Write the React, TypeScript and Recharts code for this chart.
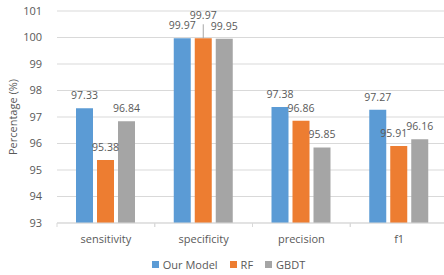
import React from 'react';
import { BarChart, Bar, XAxis, YAxis, CartesianGrid, Legend, LabelList } from 'recharts';

const categories = ['sensitivity', 'specificity', 'precision', 'f1'];
const ourModel = [97.33, 99.97, 97.38, 97.27];
const rf = [95.38, 99.97, 96.86, 95.91];
const gbdt = [96.84, 99.95, 95.85, 96.16];
const yTicks = [93, 94, 95, 96, 97, 98, 99, 100, 101];
const seriesNames = ['Our Model', 'RF', 'GBDT'];
const colors = ['#5B9BD5', '#ED7D31', '#A5A5A5'];

const data = categories.map((c, i) => ({ name: c, ours: ourModel[i], rf: rf[i], gbdt: gbdt[i] }));

const FONT = '"Open Sans", sans-serif';
const TEXT = '#595959';
const GRID = '#D9D9D9';

const XTick = (props: any) => {
  const { x, y, payload } = props;
  const off = payload && payload.offset != null ? payload.offset : 49;
  return (
    <g>
      <line x1={x - off} x2={x - off} y1={y} y2={y + 4} stroke={GRID} />
      <line x1={x + off} x2={x + off} y1={y} y2={y + 4} stroke={GRID} />
      <text x={x} y={y + 15} textAnchor="middle" dominantBaseline="central" fill={TEXT} fontSize={11} fontFamily={FONT}>
        {payload.value}
      </text>
    </g>
  );
};

const makeLabel = (raised: string | null, shifted: string | null) => (props: any) => {
  const vb = props.viewBox || props;
  const x = vb.x != null ? vb.x : props.x;
  const y = vb.y != null ? vb.y : props.y;
  const width = vb.width != null ? vb.width : props.width;
  const idx = props.index;
  const cx = x + width / 2 + (shifted != null && categories[idx] === shifted ? -5 : 0);
  const isRaised = raised != null && categories[idx] === raised;
  if (isRaised) {
    return (
      <g>
        <line x1={cx} x2={cx} y1={y - 14} y2={y} stroke="#A6A6A6" />
        <text x={cx} y={y - 19} textAnchor="middle" fill={TEXT} fontSize={10.5} fontFamily={FONT}>
          {props.value}
        </text>
      </g>
    );
  }
  return (
    <text x={cx} y={y - 9} textAnchor="middle" fill={TEXT} fontSize={10.5} fontFamily={FONT}>
      {props.value}
    </text>
  );
};

const renderLegend = () => (
  <div style={{ display: 'flex', justifyContent: 'center', alignItems: 'center', height: 22, fontFamily: FONT, fontSize: 11, color: TEXT }}>
    {seriesNames.map((n, i) => (
      <div key={n} style={{ display: 'flex', alignItems: 'center', marginRight: i < seriesNames.length - 1 ? 12 : 0 }}>
        <div style={{ width: 7, height: 7, background: colors[i], marginRight: 4 }} />
        <span>{n}</span>
      </div>
    ))}
  </div>
);

export default function App() {
  return (
    <div style={{ position: 'absolute', left: 0, top: 0, width: 444, height: 275, overflow: 'hidden', background: '#fff' }}>
      <BarChart
        width={448}
        height={275}
        data={data}
        margin={{ top: 11, right: 0, left: 0, bottom: 0 }}
        barCategoryGap={19}
        barGap={4}
      >
        <CartesianGrid vertical={false} stroke={GRID} />
        <XAxis
          dataKey="name"
          height={30}
          axisLine={{ stroke: GRID }}
          tickLine={false}
          tickSize={0}
          tickMargin={0}
          tick={<XTick />}
          interval={0}
        />
        <YAxis
          width={57}
          domain={[93, 101]}
          ticks={yTicks}
          interval={0}
          axisLine={false}
          tickLine={false}
          tickSize={0}
          tickMargin={15}
          tick={{ fill: TEXT, fontSize: 11, fontFamily: FONT }}
          label={{ value: 'Percentage (%)', angle: -90, position: 'center', dx: -15.5, fill: TEXT, fontSize: 11, fontFamily: FONT }}
        />
        <Legend verticalAlign="bottom" height={22} wrapperStyle={{ left: 0, width: 457 }} content={renderLegend} />
        <Bar dataKey="ours" name={seriesNames[0]} fill={colors[0]} isAnimationActive={false}>
          <LabelList dataKey="ours" content={makeLabel(null, null)} />
        </Bar>
        <Bar dataKey="rf" name={seriesNames[1]} fill={colors[1]} isAnimationActive={false}>
          <LabelList dataKey="rf" content={makeLabel('specificity', 'f1')} />
        </Bar>
        <Bar dataKey="gbdt" name={seriesNames[2]} fill={colors[2]} isAnimationActive={false}>
          <LabelList dataKey="gbdt" content={makeLabel(null, null)} />
        </Bar>
      </BarChart>
    </div>
  );
}
